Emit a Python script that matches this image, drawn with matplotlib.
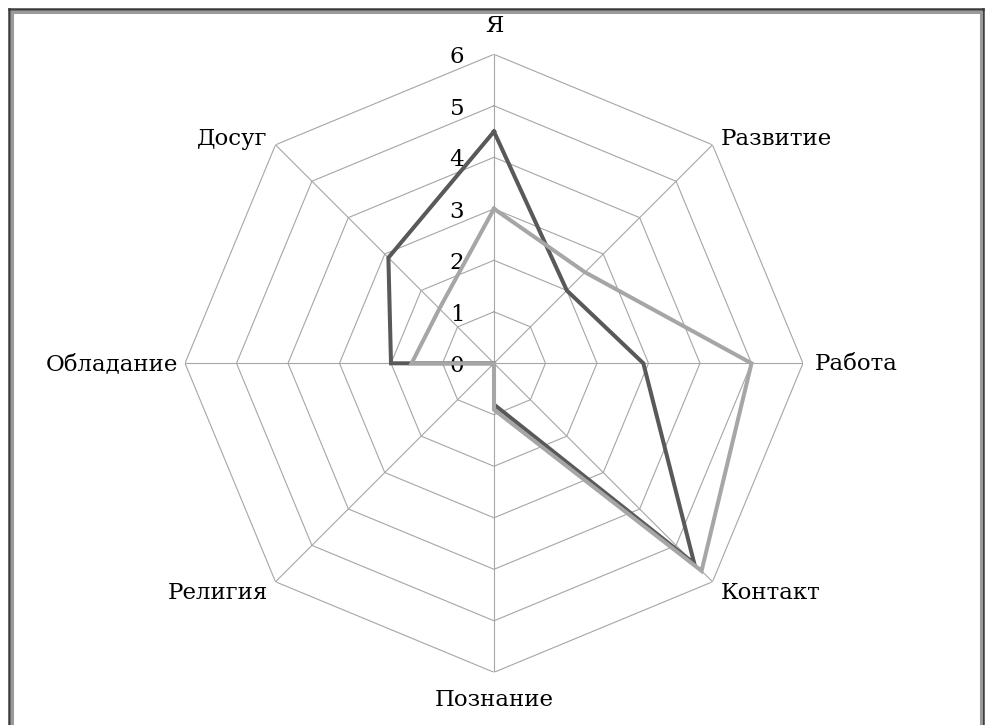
import numpy as np
import matplotlib
matplotlib.use('Agg')
import matplotlib.pyplot as plt
import matplotlib.transforms as mtransforms
from matplotlib.lines import Line2D

plt.rcParams['font.family'] = ['DejaVu Serif']

categories = ['Я', 'Развитие', 'Работа', 'Контакт',
              'Познание', 'Религия', 'Обладание', 'Досуг']
series_dark = [4.5, 2.0, 2.9, 5.5, 0.8, 0.0, 2.0, 2.9]
series_light = [3.0, 2.5, 5.0, 5.7, 0.9, 0.0, 1.6, 1.5]
rings = [0, 1, 2, 3, 4, 5, 6]

W, H = 990, 725
fig = plt.figure(figsize=[W / 100, H / 100], dpi=100)

# polar axes placed so that the center sits at (494, 363) px
cx, cy, R = 494, 363.3, 309
ax = fig.add_axes([(cx - R) / W, (H - cy - R) / H, 2 * R / W, 2 * R / H],
                  projection='polar')
ax.set_theta_zero_location('N')
ax.set_theta_direction(-1)
ax.set_ylim(0, 6)
ax.grid(False)
ax.spines['polar'].set_visible(False)
ax.set_xticks([])
ax.set_yticks([])
ax.patch.set_alpha(0)

n = len(categories)
theta = np.arange(n) * 2 * np.pi / n
theta_c = np.append(theta, theta[0])

grid_col = '#a6a6a6'
for r in rings[1:]:
    ax.plot(theta_c, [r] * (n + 1), color=grid_col, lw=0.8, zorder=1)
for t in theta:
    ax.plot([t, t], [0, rings[-1]], color=grid_col, lw=0.8, zorder=1)

ax.plot(theta_c, series_dark + series_dark[:1], color='#595959', lw=2.9,
        solid_joinstyle='miter', zorder=3)
ax.plot(theta_c, series_light + series_light[:1], color='#a6a6a6', lw=2.9,
        solid_joinstyle='miter', zorder=4)

fs = 16.5
# radial tick labels left of the top axis
tr = mtransforms.offset_copy(ax.transData, fig=fig, x=-37, y=-3, units='dots')
for r in rings:
    ax.text(0, r, str(r), transform=tr, ha='center', va='center',
            fontsize=fs)

# category labels
lab_r = 6.0
for i, (t, name) in enumerate(zip(theta, categories)):
    ang = np.degrees(t)
    if i == 0:
        ha, va, dx, dy = 'center', 'center', 0, 28
    elif i == 4:
        ha, va, dx, dy = 'center', 'center', 0, -28
    elif 0 < ang < 180:
        ha, va, dx, dy = 'left', 'center', 8, 6
    else:
        ha, va, dx, dy = 'right', 'center', -8, 6
    if i == 2:
        dx, dy = 12, -1
    if i == 6:
        dx, dy = -7, -1
    if i in (3, 5):
        dy = -11
    trl = mtransforms.offset_copy(ax.transData, fig=fig, x=dx, y=dy,
                                  units='dots')
    ax.text(t, lab_r, name, transform=trl, ha=ha, va=va, fontsize=fs)

# picture frame
def px(x):
    return x / W


def py(y):
    return 1 - y / H


for x0, col, lw in [(9, '#3c3c3c', 1.8), (11.5, '#9a9a9a', 2.2)]:
    fig.add_artist(Line2D([px(x0), px(x0)], [py(x0), 0], color=col, lw=lw))
    fig.add_artist(Line2D([px(x0), px(W - x0 + 2)], [py(x0), py(x0)],
                          color=col, lw=lw))
    fig.add_artist(Line2D([px(W - x0 + 2), px(W - x0 + 2)], [py(x0), 0],
                          color=col, lw=lw))

fig.savefig('out.png', dpi=100)
